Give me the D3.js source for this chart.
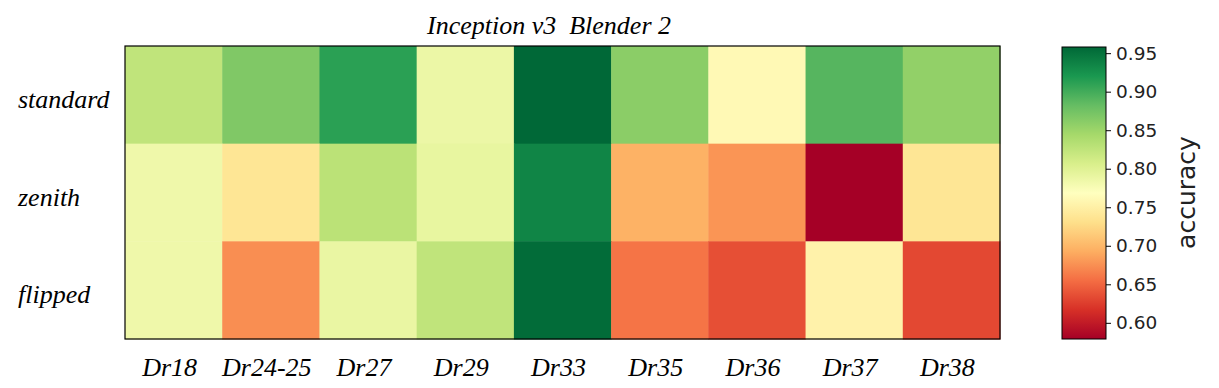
<!DOCTYPE html>
<html>
<head>
<meta charset="utf-8">
<script src="https://cdn.jsdelivr.net/npm/d3@7"></script>
<style>
  body { margin: 0; background: #fff; }
  .serif { font-family: "Liberation Serif", "DejaVu Serif", serif; font-style: italic; }
  .sans { font-family: "DejaVu Sans", sans-serif; }
</style>
</head>
<body>
<div id="chart"></div>
<script>
// heatmap data
var columns = ["Dr18", "Dr24-25", "Dr27", "Dr29", "Dr33", "Dr35", "Dr36", "Dr37", "Dr38"];
var rows = ["standard", "zenith", "flipped"];
var standard = [0.825, 0.867, 0.912, 0.787, 0.958, 0.860, 0.761, 0.890, 0.856];
var zenith   = [0.784, 0.738, 0.829, 0.791, 0.935, 0.696, 0.678, 0.579, 0.738];
var flipped  = [0.784, 0.674, 0.789, 0.825, 0.955, 0.659, 0.636, 0.753, 0.632];
var colorTicks = [0.60, 0.65, 0.70, 0.75, 0.80, 0.85, 0.90, 0.95];
var vmin = 0.579, vmax = 0.958;

var values = [standard, zenith, flipped];

//matplotlib RdYlGn is linear between these brewer stops
var stops = ["#a50026","#d73027","#f46d43","#fdae61","#fee08b","#ffffbf",
             "#d9ef8b","#a6d96a","#66bd63","#1a9850","#006837"];
var color = d3.scaleLinear()
    .domain(stops.map(function(d, i){ return vmin + (vmax - vmin) * i / (stops.length - 1); }))
    .range(stops)
    .interpolate(d3.interpolateRgb)
    .clamp(true);

var svg = d3.select("#chart")
    .append("svg")
    .attr("width", 1219)
    .attr("height", 388);

//main heatmap area
var pLeft = 125, pTop = 46, pRight = 1000, pBottom = 339;

var x = d3.scaleBand().domain(columns).range([pLeft, pRight]);
var y = d3.scaleBand().domain(rows).range([pTop, pBottom]);

var cells = [];
rows.forEach(function(r, i){
    columns.forEach(function(c, j){
        cells.push({row: r, col: c, value: values[i][j]});
    });
});

svg.append("g")
    .selectAll("rect")
    .data(cells)
    .enter()
    .append("rect")
    .attr("x", function(d){ return x(d.col); })
    .attr("y", function(d){ return y(d.row); })
    .attr("width", x.bandwidth() + 0.5)
    .attr("height", y.bandwidth() + 0.5)
    .attr("fill", function(d){ return color(d.value); });

svg.append("rect")
    .attr("x", pLeft)
    .attr("y", pTop)
    .attr("width", pRight - pLeft)
    .attr("height", pBottom - pTop)
    .attr("fill", "none")
    .attr("stroke", "#000")
    .attr("stroke-width", 1.2);

//title
svg.append("text")
    .attr("class", "serif")
    .attr("x", 549)
    .attr("y", 34)
    .attr("text-anchor", "middle")
    .style("font-size", "26px")
    .style("white-space", "pre")
    .text("Inception v3  Blender 2");

//column labels
svg.append("g")
    .selectAll("text")
    .data(columns)
    .enter()
    .append("text")
    .attr("class", "serif")
    .attr("x", function(d){ return x(d) + x.bandwidth() / 2 - 4; })
    .attr("y", 376)
    .attr("text-anchor", "middle")
    .style("font-size", "26px")
    .text(function(d){ return d; });

//row labels
svg.append("g")
    .selectAll("text")
    .data(rows)
    .enter()
    .append("text")
    .attr("class", "serif")
    .attr("x", 18)
    .attr("y", function(d){ return y(d) + y.bandwidth() / 2 + 13; })
    .style("font-size", "26px")
    .text(function(d){ return d; });

//colorbar
var cbX = 1062, cbW = 44;
var cy = d3.scaleLinear().domain([vmin, vmax]).range([pBottom, pTop + 1]);

var defs = svg.append("defs");
var grad = defs.append("linearGradient")
    .attr("id", "cbgrad")
    .attr("x1", 0).attr("y1", 1)
    .attr("x2", 0).attr("y2", 0);
grad.selectAll("stop")
    .data(stops)
    .enter()
    .append("stop")
    .attr("offset", function(d, i){ return i / (stops.length - 1); })
    .attr("stop-color", function(d){ return d; });

svg.append("rect")
    .attr("x", cbX)
    .attr("y", pTop + 1)
    .attr("width", cbW)
    .attr("height", pBottom - pTop - 1)
    .attr("fill", "url(#cbgrad)")
    .attr("stroke", "#000")
    .attr("stroke-width", 1);

var cAxis = svg.append("g")
    .attr("transform", "translate(" + (cbX + cbW) + ",0)")
    .call(d3.axisRight(cy).tickValues(colorTicks).tickFormat(d3.format(".2f")).tickSize(5).tickPadding(5));
cAxis.select(".domain").remove();
cAxis.selectAll("text")
    .style("font-family", "DejaVu Sans, sans-serif")
    .style("font-size", "18.5px")
    .attr("fill", "#222");
cAxis.selectAll("line").attr("stroke", "#000");

svg.append("text")
    .attr("class", "sans")
    .attr("transform", "translate(1195," + ((pTop + pBottom) / 2) + ") rotate(-90)")
    .attr("text-anchor", "middle")
    .style("font-size", "25px")
    .attr("fill", "#222")
    .text("accuracy");
</script>
</body>
</html>
